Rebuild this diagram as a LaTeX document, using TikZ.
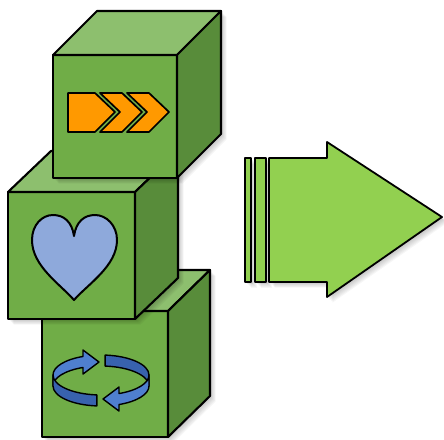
\documentclass[tikz,border=0pt]{standalone}
\begin{document}
\begin{tikzpicture}[x=1pt,y=1pt,line join=round]
\definecolor{cfront}{HTML}{70AD47}
\definecolor{ctop}{HTML}{8DBF6E}
\definecolor{cside}{HTML}{588C3A}
\definecolor{carrow}{HTML}{92D050}
\definecolor{corange}{HTML}{FF9900}
\definecolor{cheart}{HTML}{8EA9DB}
\definecolor{cblue}{HTML}{4F7FCF}
\definecolor{cbluedark}{HTML}{3862AE}
\tikzset{
  cubeline/.style={draw=black,line width=2.1pt},
  arrowline/.style={draw=black,line width=1.8pt,fill=carrow},
  chevronline/.style={draw=black,line width=1.7pt,fill=corange},
  heartline/.style={draw=black,line width=2pt,fill=cheart},
  ringlight/.style={draw=black,line width=1.4pt,fill=cblue},
  ringdark/.style={draw=black,line width=1.4pt,fill=cbluedark},
}
\useasboundingbox (0,0) rectangle (444,-439);

% soft drop shadow: stacked translucent copies of a silhouette
\newcommand\softshadow[1]{%
  \foreach \k in {1,...,7}{\fill[black,opacity=0.035,shift={(\k*0.8,-\k*0.8)}] #1;}}

% cube: front left, front top, front right, front bottom (downward values), depth dx, dy
\newcommand\greencube[6]{%
  \softshadow{(#1,-#4) -- (#1,-#2) -- ++(#5,#6) -- ++({#3-#1},0) -- ++(0,{#2-#4}) -- (#3,-#4) -- cycle}
  \filldraw[cubeline,fill=cfront] (#1,-#2) rectangle (#3,-#4);
  \filldraw[cubeline,fill=ctop] (#1,-#2) -- ++(#5,#6) -- ++({#3-#1},0) -- (#3,-#2) -- cycle;
  \filldraw[cubeline,fill=cside] (#3,-#2) -- ++(#5,#6) -- ++(0,{#2-#4}) -- (#3,-#4) -- cycle;
}

% ---------- bottom cube with rotation icon ----------
\greencube{42}{311}{168}{437}{42}{41}
% ring arrows: head half and tail half of one arrow, then its half-turn copy
\newcommand\ringhead{%
  (53,-375) arc[start angle=180,end angle=112,x radius=48,y radius=20]
  -- (83,-350) -- (99,-362) -- (83,-374) -- (82.98,-367.46)
  arc[start angle=112,end angle=180,x radius=48,y radius=20] -- cycle}
\newcommand\ringtail{%
  (53,-375) arc[start angle=180,end angle=265,x radius=48,y radius=20]
  -- ++(0,-11) arc[start angle=265,end angle=180,x radius=48,y radius=20] -- cycle}
\filldraw[ringlight] \ringhead;
\filldraw[ringdark] \ringtail;
\begin{scope}[rotate around={180:(101,-380.5)}]
  \filldraw[ringdark] \ringtail;
  \filldraw[ringlight] \ringhead;
\end{scope}

% ---------- middle cube with heart ----------
\greencube{8}{192}{135}{319}{43}{41}
\filldraw[heartline] (74,-300)
  .. controls (60,-284) and (32,-266) .. (32,-240)
  .. controls (32,-225) and (42,-215) .. (53,-215)
  .. controls (64,-215) and (72,-222) .. (74,-236)
  .. controls (76,-222) and (84,-215) .. (95,-215)
  .. controls (106,-215) and (117,-225) .. (117,-240)
  .. controls (117,-266) and (88,-284) .. (74,-300) -- cycle;

% ---------- top cube with chevrons ----------
\greencube{53}{55}{177}{178}{44}{44}
\filldraw[chevronline] (68,-93) -- (95,-93) -- (115,-112) -- (95,-132) -- (68,-132) -- cycle;
\filldraw[chevronline] (100,-93) -- (122,-93) -- (142,-112) -- (122,-132) -- (100,-132) -- (120,-112) -- cycle;
\filldraw[chevronline] (127,-93) -- (149,-93) -- (169,-112) -- (149,-132) -- (127,-132) -- (147,-112) -- cycle;

% ---------- big arrow with two trailing bars ----------
\softshadow{(245,-158) rectangle (251,-282)}
\softshadow{(255,-158) rectangle (266,-282)}
\softshadow{(269,-158) -- (327,-158) -- (327,-142) -- (442,-217) -- (327,-297) -- (327,-282) -- (269,-282) -- cycle}
\filldraw[arrowline] (245,-158) rectangle (251,-282);
\filldraw[arrowline] (255,-158) rectangle (266,-282);
\filldraw[arrowline] (269,-158) -- (327,-158) -- (327,-142) -- (442,-217) -- (327,-297) -- (327,-282) -- (269,-282) -- cycle;
\end{tikzpicture}
\end{document}
